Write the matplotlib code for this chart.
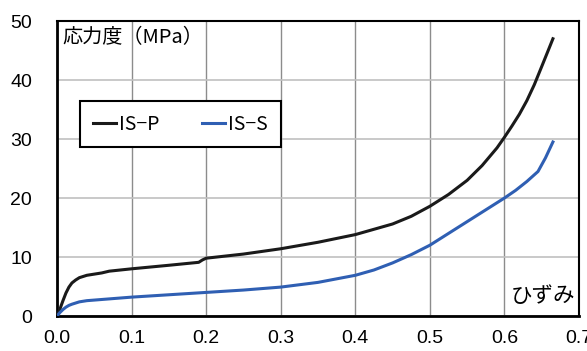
import numpy as np
import matplotlib.pyplot as plt

plt.rcParams['font.family'] = ['Liberation Sans', 'DejaVu Sans']

# データ
x_p = [0, 0.004, 0.008, 0.012, 0.016, 0.02, 0.025, 0.03, 0.04, 0.05, 0.06, 0.07, 0.1, 0.15,
       0.19, 0.195, 0.2, 0.25, 0.3, 0.35, 0.4, 0.45, 0.475, 0.5, 0.525, 0.55, 0.57, 0.59,
       0.6, 0.61, 0.62, 0.63, 0.64, 0.65, 0.658, 0.665]
y_p = [0, 1.2, 2.6, 3.9, 4.9, 5.6, 6.1, 6.5, 6.9, 7.1, 7.3, 7.6, 8.0, 8.6,
       9.1, 9.5, 9.8, 10.5, 11.4, 12.5, 13.8, 15.6, 16.9, 18.6, 20.6, 23.0, 25.5, 28.5,
       30.3, 32.2, 34.2, 36.5, 39.2, 42.3, 44.8, 47.0]

x_s = [0, 0.004, 0.008, 0.012, 0.016, 0.02, 0.03, 0.04, 0.05, 0.07, 0.1, 0.15, 0.2, 0.25,
       0.3, 0.35, 0.4, 0.425, 0.45, 0.475, 0.5, 0.525, 0.55, 0.575, 0.6, 0.615, 0.63,
       0.645, 0.655, 0.665]
y_s = [0, 0.6, 1.1, 1.5, 1.8, 2.0, 2.4, 2.6, 2.7, 2.9, 3.2, 3.6, 4.0, 4.4,
       4.9, 5.7, 6.9, 7.8, 9.0, 10.4, 12.0, 14.0, 16.0, 18.0, 20.0, 21.3, 22.8,
       24.5, 26.8, 29.5]

xticks = [0.0, 0.1, 0.2, 0.3, 0.4, 0.5, 0.6, 0.7]
yticks = [0, 10, 20, 30, 40, 50]

jp = ['Noto Sans CJK JP', 'DejaVu Sans']

fig = plt.figure(figsize=(5.87, 3.51), dpi=100)
ax = fig.add_axes([0.0971, 0.0997, 0.8893, 0.8403])

ax.plot(x_p, y_p, color='#1a1a1a', lw=2.2, label='IS\u2212P', zorder=3)
ax.plot(x_s, y_s, color='#2f5fb3', lw=2.2, label='IS\u2212S', zorder=3)

ax.set_xlim(0, 0.7)
ax.set_ylim(0, 50)
ax.set_xticks(xticks)
ax.set_xticklabels([f'{v:.1f}' for v in xticks])
ax.set_yticks(yticks)
ax.tick_params(length=0, labelsize=14)
ax.tick_params(axis='x', pad=10)
ax.tick_params(axis='y', pad=18)

ax.xaxis.grid(True, color='#8c8c8c', lw=1.0)
ax.yaxis.grid(True, color='#c0c0c0', lw=1.2)
ax.set_axisbelow(True)

for side in ['left', 'bottom']:
    ax.spines[side].set_linewidth(2.0)
for side in ['top', 'right']:
    ax.spines[side].set_linewidth(1.5)

ax.text(0.01, 0.98, '応力度（MPa）', transform=ax.transAxes, ha='left', va='top',
        fontsize=14.5, family=jp)
ax.text(0.992, 0.03, 'ひずみ', transform=ax.transAxes, ha='right', va='bottom',
        fontsize=15.5, family=jp)

leg = ax.legend(loc='upper left', bbox_to_anchor=(0.044, 0.729), ncol=2,
                fancybox=False, edgecolor='black', framealpha=1,
                prop={'family': jp, 'size': 14}, handlelength=1.2,
                handletextpad=0.15, columnspacing=2.2, borderpad=0.65,
                borderaxespad=0)
leg.get_frame().set_linewidth(1.5)

fig.savefig('out.png', dpi=100)
